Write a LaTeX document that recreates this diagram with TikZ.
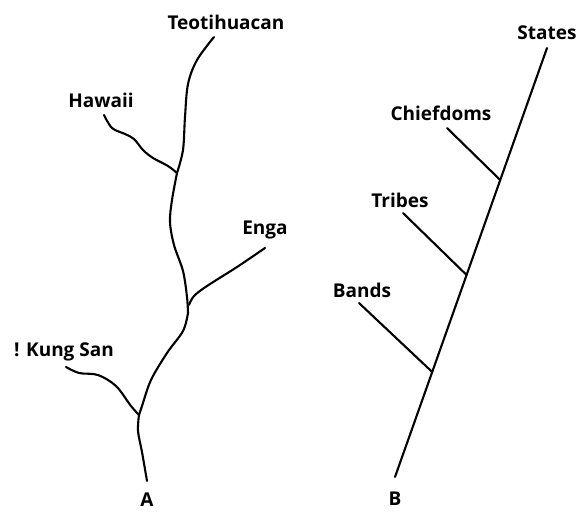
\documentclass[tikz,border=0pt]{standalone}
\usepackage{fontspec}
\setmainfont{Open Sans}
\usetikzlibrary{calc}
\begin{document}
\begin{tikzpicture}[x=1pt,y=-1pt,
  lbl/.style={font=\fontsize{19}{22}\selectfont\bfseries, inner sep=0pt},
  branch/.style={line width=2.1pt, line cap=round, line join=round}]
\useasboundingbox (0,0) rectangle (584,512);

% ---------- A: branching tree of particular societies ----------
\node[lbl] (teo)   at (226,22)  {Teotihuacan};
\node[lbl] (haw)   at (101,100) {Hawaii};
\node[lbl] (enga)  at (265,230) {Enga};
\node[lbl] (kung)  at (64,352)  {! Kung San};
\node[lbl] (A)     at (147,500) {A};

\coordinate (tTop)  at (214,37);
\coordinate (jHaw)  at (177,173);
\coordinate (jEnga) at (188,313);
\coordinate (jKung) at (139,415);
\coordinate (tBot)  at (147,481);
\coordinate (eHaw)  at (104,115);
\coordinate (eEnga) at (265,248);
\coordinate (eKung) at (66,367);

% main stem
\draw[branch] plot[smooth, tension=0.55] coordinates
  {(tTop) (197,60) (188,84) (185,117) (183,150) (jHaw)};
\draw[branch] plot[smooth, tension=0.55] coordinates
  {(jHaw) (172,200) (170,222) (174,245) (183,271) (187,297) (jEnga)};
\draw[branch] plot[smooth, tension=0.55] coordinates
  {(jEnga) (183,331) (167,353) (151,380) (142,406) (jKung)};
\draw[branch] plot[smooth, tension=0.55] coordinates
  {(jKung) (138,431) (142,452) (tBot)};

% side branches
\draw[branch] plot[smooth, tension=0.55] coordinates
  {(eHaw) (112,128) (125,134) (134,139) (143,150) (153,158) (168,166) (jHaw)};
\draw[branch] plot[smooth, tension=0.55] coordinates
  {(189,305) (194,296) (207,286) (237,267) (eEnga)};
\draw[branch] plot[smooth, tension=0.55] coordinates
  {(eKung) (79,373) (98,375) (116,386) (131,406) (jKung)};

% ---------- B: single line of stages ----------
\node[lbl] (states) at (547,33)  {States};
\node[lbl] (chief)  at (441,113) {Chiefdoms};
\node[lbl] (tribes) at (400,200) {Tribes};
\node[lbl] (bands)  at (362,290) {Bands};
\node[lbl] (B)      at (395,499) {B};

\coordinate (lTop) at (547,48);
\coordinate (lBot) at (395,477);
\coordinate (jChief)  at ($(lTop)!0.3077!(lBot)$);
\coordinate (jTribes) at ($(lTop)!0.5291!(lBot)$);
\coordinate (jBands)  at ($(lTop)!0.7552!(lBot)$);
\coordinate (eChief)  at (447,128);
\coordinate (eTribes) at (403,213);
\coordinate (eBands)  at (359,303);

\draw[branch] (lBot) -- (lTop);
\draw[branch] (eChief) -- (jChief);
\draw[branch] (eTribes) -- (jTribes);
\draw[branch] (eBands) -- (jBands);
\end{tikzpicture}
\end{document}
